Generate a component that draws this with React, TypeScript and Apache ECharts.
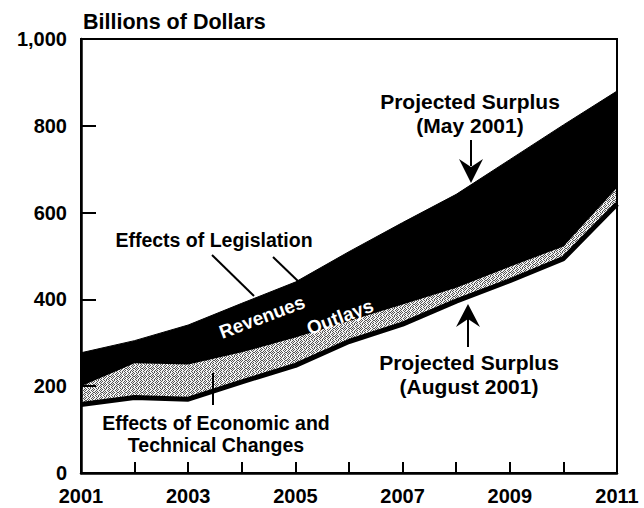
import React, { useEffect, useRef } from "react";
import * as echarts from "echarts";

const years = [2001, 2002, 2003, 2004, 2005, 2006, 2007, 2008, 2009, 2010, 2011];
// Upper edge of the black band: projected surplus, May 2001
const maySurplus = [277, 305, 341, 391, 440, 510, 577, 642, 722, 802, 880];
// Upper edge of the stippled band (after effects of legislation)
const afterLegislation = [200, 253, 250, 278, 312, 350, 388, 427, 475, 522, 657];
// Projected surplus, August 2001 (thick lower line)
const augSurplus = [158, 174, 170, 210, 248, 303, 343, 396, 443, 494, 620];
const yTicks = [0, 200, 400, 600, 800, 1000];
const xLabelYears = [2001, 2003, 2005, 2007, 2009, 2011];

const FONT = '"Liberation Sans", Arial, Helvetica, sans-serif';

// stipple tile for the "economic and technical changes" band
const STIPPLE = [
  "10100110",
  "01001001",
  "10010100",
  "00101001",
  "10100100",
  "01001010",
  "10010100",
  "01001001",
];

function makeStipple(): any {
  const c = document.createElement("canvas");
  c.width = STIPPLE[0].length;
  c.height = STIPPLE.length;
  const g = c.getContext("2d");
  if (!g) return "#b3b3b3";
  for (let r = 0; r < STIPPLE.length; r++) {
    for (let k = 0; k < STIPPLE[r].length; k++) {
      g.fillStyle = STIPPLE[r][k] === "1" ? "#555555" : "#f2f2f2";
      g.fillRect(k, r, 1, 1);
    }
  }
  return { image: c.toDataURL(), repeat: "repeat", imageWidth: c.width, imageHeight: c.height };
}

export default function App() {
  const ref = useRef<HTMLDivElement>(null);
  useEffect(() => {
    if (!ref.current) return;
    const chart = echarts.init(ref.current, undefined, { renderer: "svg" });
    const pair = (vals: number[]) => years.map((y, i) => [y, vals[i]]);
    const txt = (text: string, x: number, y: number, size: number, extra: any = {}) => ({
      type: "text",
      x,
      y,
      rotation: extra.rotation || 0,
      z: 100,
      style: {
        text,
        fill: extra.fill || "#000",
        fontSize: size,
        fontWeight: "bold",
        fontFamily: FONT,
        align: extra.align || "center",
        verticalAlign: "middle",
      },
    });
    const ln = (x1: number, y1: number, x2: number, y2: number, w = 2) => ({
      type: "line",
      z: 100,
      shape: { x1, y1, x2, y2 },
      style: { stroke: "#000", lineWidth: w },
    });
    chart.setOption({
      animation: false,
      backgroundColor: "#fff",
      grid: {
        left: 81,
        right: 27,
        top: 39,
        bottom: 35,
        show: true,
        z: 10,
        backgroundColor: "transparent",
        borderColor: "#000",
        borderWidth: 2,
      },
      xAxis: {
        type: "value",
        min: 2001,
        max: 2011,
        interval: 1,
        z: 10,
        axisLine: { show: true, lineStyle: { color: "#000", width: 2.5 } },
        axisTick: { show: true, inside: true, length: 11, lineStyle: { color: "#000", width: 2 } },
        axisLabel: {
          margin: 13,
          color: "#000",
          fontSize: 20,
          fontWeight: "bold",
          fontFamily: FONT,
          formatter: (v: number) => (xLabelYears.indexOf(v) >= 0 ? String(v) : ""),
        },
        splitLine: { show: false },
      },
      yAxis: {
        type: "value",
        min: yTicks[0],
        max: yTicks[yTicks.length - 1],
        interval: 200,
        z: 10,
        axisLine: { show: true, lineStyle: { color: "#000", width: 2.5 } },
        axisTick: { show: true, inside: true, length: 15, lineStyle: { color: "#000", width: 2 } },
        axisLabel: {
          margin: 14,
          color: "#000",
          fontSize: 20,
          fontWeight: "bold",
          fontFamily: FONT,
          formatter: (v: number) => (v >= 1000 ? "1,000" : String(v)),
        },
        splitLine: { show: false },
      },
      series: [
        {
          name: "Effects of Legislation",
          type: "line",
          data: pair(maySurplus),
          symbol: "none",
          z: 2,
          lineStyle: { width: 1, color: "#000" },
          areaStyle: { color: "#000", opacity: 1 },
        },
        {
          name: "Effects of Economic and Technical Changes",
          type: "line",
          data: pair(afterLegislation),
          symbol: "none",
          z: 3,
          lineStyle: { width: 0, opacity: 0 },
          areaStyle: { color: makeStipple(), opacity: 1 },
        },
        {
          name: "Below August surplus",
          type: "line",
          data: pair(augSurplus),
          symbol: "none",
          z: 4,
          lineStyle: { width: 0, opacity: 0 },
          areaStyle: { color: "#fff", opacity: 1 },
        },
        {
          name: "Projected Surplus (August 2001)",
          type: "line",
          data: pair(augSurplus),
          symbol: "none",
          z: 5,
          lineStyle: { width: 5, color: "#000" },
        },
      ],
      graphic: [
        txt("Billions of Dollars", 83, 22, 21.5, { align: "left" }),
        txt("Projected Surplus", 470, 101, 21),
        txt("(May 2001)", 470, 125, 21),
        ln(471, 140, 471, 166),
        {
          type: "polygon",
          z: 100,
          shape: { points: [[459, 159], [471, 167], [483, 159], [471, 183]] },
          style: { fill: "#000" },
        },
        txt("Projected Surplus", 469, 362, 21),
        txt("(August 2001)", 469, 386, 21),
        ln(468, 347, 468, 318),
        {
          type: "polygon",
          z: 100,
          shape: { points: [[468, 304], [480, 327], [468, 319], [456, 327]] },
          style: { fill: "#000" },
        },
        txt("Effects of Legislation", 214, 240, 19.5),
        ln(212, 255, 254, 296),
        ln(273, 257, 300, 283),
        txt("Revenues", 262, 317, 19, { fill: "#fff", rotation: 0.36 }),
        txt("Outlays", 340, 317, 19, { fill: "#fff", rotation: 0.36 }),
        txt("Effects of Economic and", 216, 423, 19.5),
        txt("Technical Changes", 216, 445, 19.5),
        ln(213, 373, 213, 405),
      ],
    });
    return () => chart.dispose();
  }, []);
  return (
    <div
      ref={ref}
      style={{ position: "fixed", left: 0, top: 0, width: 644, height: 508, background: "#fff" }}
    />
  );
}
